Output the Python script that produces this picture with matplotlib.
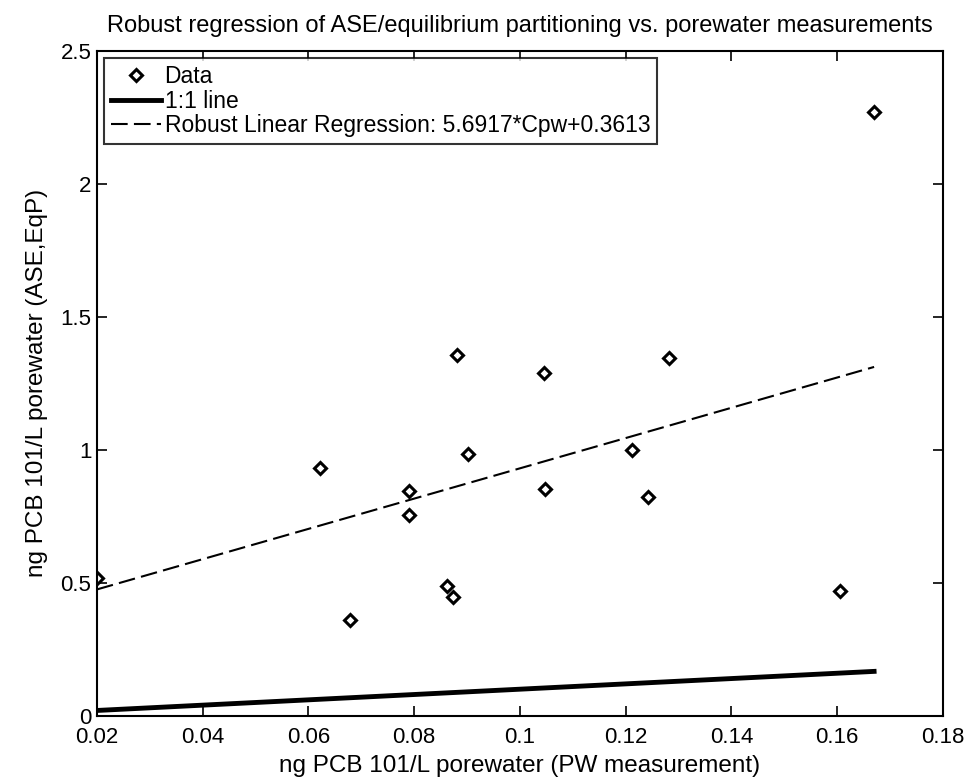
import numpy as np
import matplotlib.pyplot as plt

plt.rcParams['font.family'] = ['Liberation Sans', 'DejaVu Sans']

# porewater measurement vs ASE/EqP estimate, ng PCB 101 / L
pw = [0.020, 0.0622, 0.0678, 0.0790, 0.0790, 0.0862, 0.0873, 0.0881,
      0.0902, 0.1045, 0.1047, 0.1212, 0.1242, 0.1282, 0.1605, 0.1670]
ase = [0.52, 0.93, 0.36, 0.846, 0.756, 0.489, 0.447, 1.357,
       0.985, 1.289, 0.853, 1.00, 0.823, 1.346, 0.47, 2.27]

slope = 5.6917
intercept = 0.3613

xline = np.array([min(pw), max(pw)])

fig = plt.figure(figsize=(9.69, 7.84), dpi=100)
ax = fig.add_axes([0.100, 0.087, 0.873, 0.848])

ax.plot(pw, ase, 'D', mfc='white', mec='black', ms=6.5, mew=2.2, label='Data')
ax.plot(xline, xline, '-', color='black', lw=3.5, label='1:1 line')
ax.plot(xline, slope * xline + intercept, '--', color='black', lw=1.5,
        dashes=(8, 3),
        label='Robust Linear Regression: %.4f*Cpw+%.4f' % (slope, intercept))

ax.set_xlim(0.02, 0.18)
ax.set_ylim(0, 2.5)
ax.set_xticks(np.arange(0.02, 0.181, 0.02))
ax.set_xticklabels(['0.02', '0.04', '0.06', '0.08', '0.1', '0.12', '0.14', '0.16', '0.18'])
ax.set_yticks([0, 0.5, 1, 1.5, 2, 2.5])
ax.set_yticklabels(['0', '0.5', '1', '1.5', '2', '2.5'])
ax.tick_params(direction='in', top=True, right=True, length=7, width=1.2,
               labelsize=16)
ax.tick_params(axis='x', pad=8)
ax.tick_params(axis='y', pad=4)
for s in ax.spines.values():
    s.set_linewidth(1.5)

ax.set_title('Robust regression of ASE/equilibrium partitioning vs. porewater measurements',
             fontsize=17, pad=14)
ax.set_xlabel('ng PCB 101/L porewater (PW measurement)', fontsize=17.5, labelpad=5)
ax.set_ylabel('ng PCB 101/L porewater (ASE,EqP)', fontsize=17.5, labelpad=9)

leg = ax.legend(loc='upper left', fontsize=16.5, frameon=True, fancybox=False,
                edgecolor='black', handlelength=2.2, borderaxespad=0.3,
                labelspacing=0.08, handletextpad=0.15, borderpad=0.3)
leg.get_frame().set_linewidth(1.5)

fig.savefig('out.png', dpi=100)
